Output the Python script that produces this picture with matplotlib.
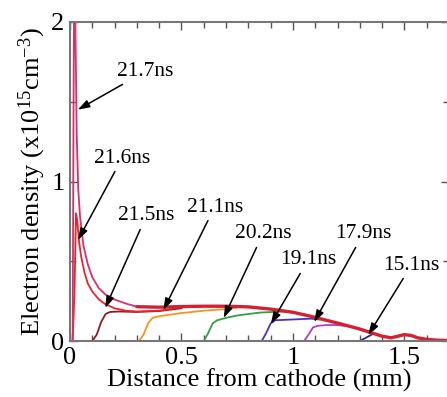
"""
Electron density profiles along the gap at successive times (x10^15 cm^-3).
Front of each profile moves toward the cathode; the common tail is drawn once.
"""

import numpy as np
import matplotlib
matplotlib.use("Agg")
import matplotlib.pyplot as plt
from matplotlib.ticker import MultipleLocator

plt.rcParams["font.family"] = ["Liberation Serif", "DejaVu Serif"]
plt.rcParams["mathtext.fontset"] = "custom"
plt.rcParams["mathtext.rm"] = "Liberation Serif"
plt.rcParams["mathtext.it"] = "Liberation Serif:italic"

# shared tail of the late-time profiles (mm, density)
TAIL_X = [0.30, 0.40, 0.50, 0.60, 0.70, 0.80, 0.90, 1.00, 1.08, 1.15, 1.22,
          1.30, 1.36, 1.40, 1.44, 1.47, 1.50, 1.53, 1.56, 1.60, 1.65, 1.70]
TAIL_Y = [0.215, 0.212, 0.216, 0.218, 0.218, 0.214, 0.200, 0.180, 0.155, 0.130,
          0.105, 0.075, 0.048, 0.030, 0.020, 0.030, 0.040, 0.035, 0.020, 0.010,
          0.005, 0.003]

# leading edge of each profile
X_217 = [0, 0.012, 0.016, 0.020, 0.024, 0.030, 0.037, 0.045, 0.06, 0.08, 0.10,
         0.13, 0.16, 0.20, 0.25, 0.30]
Y_217 = [0, 0.0, 1.5, 2.6, 2.0, 1.3, 0.95, 0.78, 0.60, 0.48, 0.40, 0.33, 0.29,
         0.26, 0.235, 0.215]
X_216 = [0, 0.012, 0.020, 0.027, 0.033, 0.040, 0.05, 0.065, 0.08, 0.10, 0.13,
         0.16, 0.20, 0.25, 0.30, 0.40, 0.50]
Y_216 = [0, 0.0, 0.30, 0.80, 0.75, 0.63, 0.53, 0.43, 0.36, 0.31, 0.26, 0.23,
         0.205, 0.19, 0.185, 0.19, 0.212]
X_215 = [0, 0.10, 0.12, 0.14, 0.16, 0.18, 0.22, 0.30, 0.40, 0.50]
Y_215 = [0, 0.0, 0.04, 0.12, 0.17, 0.182, 0.185, 0.182, 0.188, 0.205]
X_211 = [0, 0.31, 0.33, 0.35, 0.37, 0.40, 0.45, 0.50, 0.60, 0.70, 0.75]
Y_211 = [0, 0.0, 0.04, 0.11, 0.145, 0.155, 0.165, 0.175, 0.190, 0.200, 0.210]
X_202 = [0, 0.60, 0.62, 0.64, 0.66, 0.70, 0.75, 0.85, 0.95, 1.00]
Y_202 = [0, 0.0, 0.05, 0.11, 0.13, 0.145, 0.160, 0.178, 0.185, 0.180]
X_191 = [0, 0.86, 0.88, 0.90, 0.92, 1.00, 1.08, 1.12]
Y_191 = [0, 0.0, 0.05, 0.11, 0.13, 0.135, 0.140, 0.135]
X_179 = [0, 1.05, 1.07, 1.09, 1.11, 1.15, 1.20, 1.26]
Y_179 = [0, 0.0, 0.04, 0.085, 0.095, 0.100, 0.100, 0.090]
X_151 = [0, 1.30, 1.32, 1.34, 1.36]
Y_151 = [0, 0.0, 0.015, 0.030, 0.045]

# label, text position, arrow tip (data coords)
LABELS = ["21.7ns", "21.6ns", "21.5ns", "21.1ns", "20.2ns", "19.1ns",
          "17.9ns", "15.1ns"]
TEXT_XY = [(0.338, 1.69), (0.234, 1.147), (0.342, 0.784), (0.649, 0.840),
           (0.865, 0.671), (1.068, 0.508), (1.315, 0.671), (1.532, 0.476)]
TIP_XY = [(0.035, 1.45), (0.036, 0.633), (0.158, 0.207), (0.419, 0.194),
          (0.689, 0.144), (0.901, 0.107), (1.095, 0.119), (1.338, 0.038)]

CURVES = [
    (X_151, Y_151, "#3c1e8c"),
    (X_179, Y_179, "#b040c8"),
    (X_191, Y_191, "#4633c8"),
    (X_202, Y_202, "#30a040"),
    (X_211, Y_211, "#f7941d"),
    (X_215, Y_215, "#8b1c24"),
    (X_216, Y_216, "#e8242c"),
    (X_217, Y_217, "#d9306a"),
]


def main():
    fig = plt.figure(figsize=(4.47, 3.97), dpi=100)
    ax = fig.add_axes([70 / 447, 56 / 397, 379 / 447, 319 / 397])

    for xs, ys, c in CURVES:
        ax.plot(xs, ys, color=c, lw=1.3, solid_joinstyle="round")
    ax.plot(TAIL_X, TAIL_Y, color="#d42030", lw=2.4, solid_capstyle="round")

    for lab, txy, tip in zip(LABELS, TEXT_XY, TIP_XY):
        ax.annotate(lab, xy=tip, xytext=txy, ha="center", va="center",
                    fontsize=15.5,
                    arrowprops=dict(arrowstyle="-|>,head_length=0.45,head_width=0.15",
                                    color="black", lw=1.1, shrinkA=1, shrinkB=0))

    ax.set_xlim(0, 1.7)
    ax.set_ylim(0, 2)
    ax.xaxis.set_minor_locator(MultipleLocator(0.1))
    ax.yaxis.set_minor_locator(MultipleLocator(0.5))
    ax.set_xticks([0, 0.5, 1, 1.5])
    ax.set_xticklabels(["0", "0.5", "1", "1.5"])
    ax.set_yticks([0, 1, 2])
    ax.set_yticklabels(["0", "1", "2"])
    ax.tick_params(which="both", direction="in", top=True, right=True,
                   color="#555555", labelsize=19, pad=4)
    ax.tick_params(which="major", length=6, width=1.0)
    ax.tick_params(which="minor", length=4, width=1.0)
    for s in ax.spines.values():
        s.set_color("#777777")
        s.set_linewidth(1.5)

    ax.set_xlabel("Distance from cathode (mm)", fontsize=19, labelpad=0)
    ax.set_ylabel("Electron density (x10$^{15}$cm$^{-3}$)", fontsize=19,
                  labelpad=2)

    fig.savefig("out.png", dpi=100)


if __name__ == "__main__":
    main()
